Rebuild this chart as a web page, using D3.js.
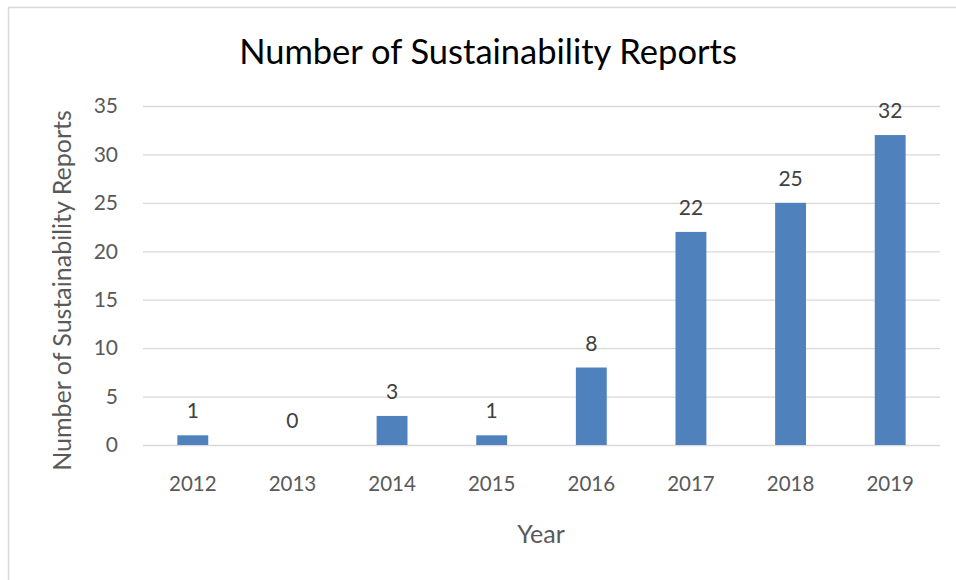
<!DOCTYPE html>
<html>
<head>
<meta charset="utf-8">
<script src="https://cdn.jsdelivr.net/npm/d3@7"></script>
<style>
  html, body { margin: 0; padding: 0; background: #fff; }
  svg { display: block; }
  text { font-family: Lato, "Open Sans", sans-serif; }
</style>
</head>
<body>
<svg id="chart" width="956" height="580"></svg>
<script>
const years = ["2012", "2013", "2014", "2015", "2016", "2017", "2018", "2019"];
const reports = [1, 0, 3, 1, 8, 22, 25, 32];
const yTicks = [0, 5, 10, 15, 20, 25, 30, 35];
const chartTitle = "Number of Sustainability Reports";
const xTitle = "Year";
const yTitle = "Number of Sustainability Reports";

const data = years.map((y, i) => ({ year: y, value: reports[i] }));

const svg = d3.select("#chart");
const W = 956, H = 580;
const margin = { left: 143, right: 16, top: 106, bottom: 135 };

// outer border
svg.append("path")
  .attr("d", `M8.5,${H + 5} V7.5 H${W + 5}`)
  .attr("fill", "none")
  .attr("stroke", "#d9d9d9")
  .attr("stroke-width", 1.5);

const x = d3.scaleBand()
  .domain(years)
  .range([margin.left, W - margin.right])
  .paddingInner(0.69)
  .paddingOuter(0.345);

const y = d3.scaleLinear()
  .domain([0, 35])
  .range([H - margin.bottom, margin.top]);

// gridlines
const grid = d3.axisLeft(y).tickValues(yTicks)
  .tickSize(-(W - margin.left - margin.right)).tickFormat("");
svg.append("g")
  .attr("transform", `translate(${margin.left},0)`)
  .call(grid)
  .call(g => g.select(".domain").remove())
  .call(g => g.selectAll("line").attr("stroke", "#d9d9d9").attr("stroke-width", 1.3));

// y-axis labels
const yAxis = d3.axisLeft(y).tickValues(yTicks).tickSize(0).tickPadding(25);
svg.append("g")
  .attr("transform", `translate(${margin.left},0)`)
  .call(yAxis)
  .call(g => g.select(".domain").remove())
  .call(g => g.selectAll("text")
    .attr("fill", "#595959")
    .style("font-size", "21px")
    .style("font-family", "Lato, sans-serif"));

// x-axis labels
const xAxis = d3.axisBottom(x).tickSize(0).tickPadding(31);
svg.append("g")
  .attr("transform", `translate(0,${y(0)})`)
  .call(xAxis)
  .call(g => g.select(".domain").remove())
  .call(g => g.selectAll("text")
    .attr("fill", "#595959")
    .style("font-size", "20.5px")
    .style("font-family", "Lato, sans-serif"));

// bars
svg.append("g").selectAll("rect")
  .data(data)
  .join("rect")
  .attr("x", d => x(d.year))
  .attr("y", d => y(d.value))
  .attr("width", x.bandwidth())
  .attr("height", d => y(0) - y(d.value))
  .attr("fill", "#4f81bd");

// data labels
svg.append("g").selectAll("text")
  .data(data)
  .join("text")
  .attr("x", d => x(d.year) + x.bandwidth() / 2)
  .attr("y", d => y(d.value) - 17)
  .attr("text-anchor", "middle")
  .attr("fill", "#404040")
  .style("font-size", "21px")
  .text(d => d.value);

// chart title
svg.append("text")
  .attr("x", 488)
  .attr("y", 64)
  .attr("text-anchor", "middle")
  .attr("fill", "#000")
  .style("font-size", "34.5px")
  .text(chartTitle);

// x title
svg.append("text")
  .attr("x", 541)
  .attr("y", 543)
  .attr("text-anchor", "middle")
  .attr("fill", "#595959")
  .style("font-size", "25px")
  .text(xTitle);

// y title
svg.append("text")
  .attr("transform", `translate(71,${(y(0) + y(35)) / 2 + 15}) rotate(-90)`)
  .attr("text-anchor", "middle")
  .attr("fill", "#595959")
  .style("font-size", "25px")
  .text(yTitle);
</script>
</body>
</html>
